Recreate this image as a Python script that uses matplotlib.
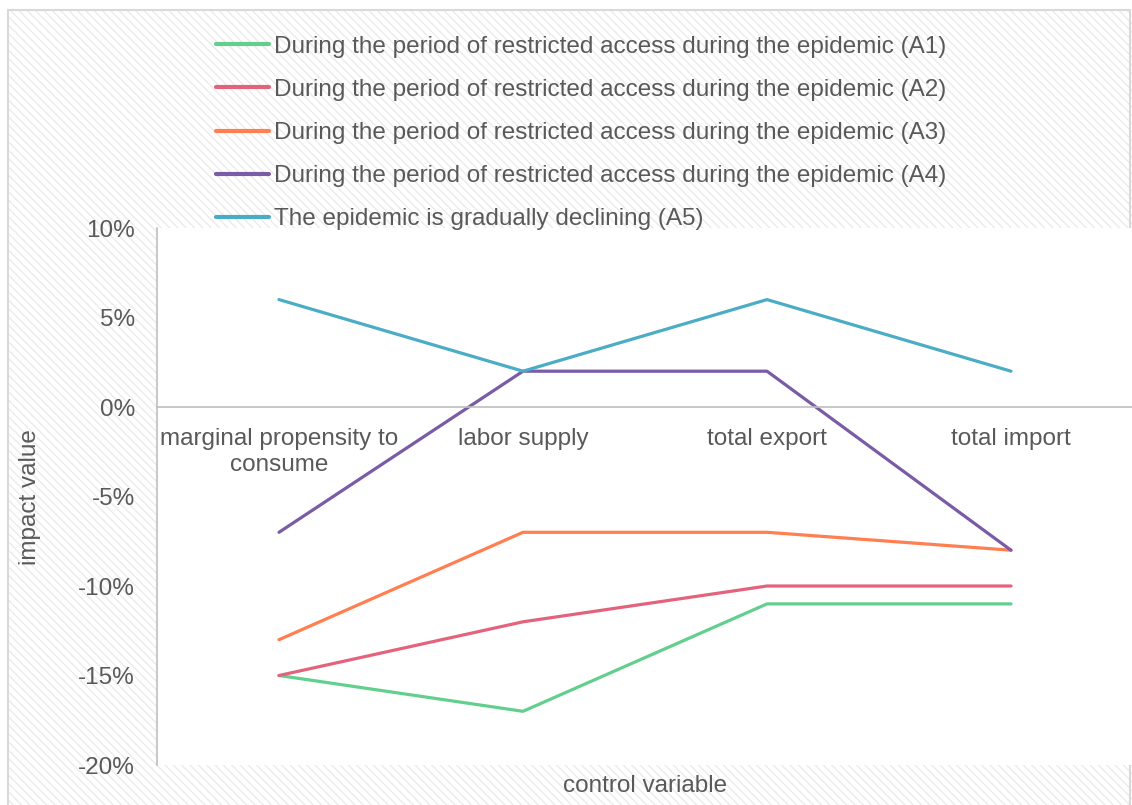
import matplotlib.pyplot as plt
from matplotlib.patches import Rectangle
from matplotlib.ticker import FuncFormatter

plt.rcParams['font.family'] = ['Liberation Sans', 'DejaVu Sans']
plt.rcParams['hatch.linewidth'] = 1.0

# dane
categories = ['marginal propensity to\nconsume', 'labor supply', 'total export', 'total import']
series_names = [
    'During the period of restricted access during the epidemic (A1)',
    'During the period of restricted access during the epidemic (A2)',
    'During the period of restricted access during the epidemic (A3)',
    'During the period of restricted access during the epidemic (A4)',
    'The epidemic is gradually declining (A5)',
]
a1 = [-15, -17, -11, -11]
a2 = [-15, -12, -10, -10]
a3 = [-13, -7, -7, -8]
a4 = [-7, 2, 2, -8]
a5 = [6, 2, 6, 2]
colors = ['#62CF8E', '#E4637C', '#FF7F50', '#7A5BA5', '#4BACC6']

FS = 17.5
W, H = 1132, 805
fig = plt.figure(figsize=(W / 100, H / 100), dpi=100)

# tło w ukośne paski + ramka
bg = Rectangle((8 / W, 0), 1 - 8 / W, 1 - 10 / H, transform=fig.transFigure,
               facecolor='white', edgecolor='#EBEBEB', hatch='\\\\\\\\',
               linewidth=0, zorder=-2)
fig.patches.append(bg)
border = Rectangle((8 / W, -0.01), 1 - 10 / W, 1 - 10 / H + 0.01, transform=fig.transFigure,
                   facecolor='none', edgecolor='#D9D9D9', linewidth=1.5, zorder=-1)
fig.patches.append(border)

ax = fig.add_axes([157 / W, 40 / H, 976 / W, 537 / H])
ax.set_facecolor('white')

x = list(range(len(categories)))
for vals, name, c in zip([a1, a2, a3, a4, a5], series_names, colors):
    ax.plot(x, vals, color=c, linewidth=2.3, label=name, solid_capstyle='round')

ax.set_xlim(-0.5, 3.5)
ax.set_ylim(-20, 10)
ax.set_yticks(range(-20, 11, 5))
ax.yaxis.set_major_formatter(FuncFormatter(lambda v, p: f'{int(v)}%'))

for s in ['top', 'right']:
    ax.spines[s].set_visible(False)
ax.spines['left'].set_color('#BFBFBF')
ax.spines['left'].set_linewidth(1.2)
ax.spines['bottom'].set_position(('data', 0))
ax.spines['bottom'].set_color('#BFBFBF')
ax.spines['bottom'].set_linewidth(1.2)

ax.set_xticks(x)
ax.set_xticklabels(categories)
ax.tick_params(axis='x', length=0, pad=15, labelsize=FS, labelcolor='#595959')
ax.tick_params(axis='y', length=0, pad=16, labelsize=FS, labelcolor='#595959')
for lbl in ax.get_xticklabels():
    lbl.set_linespacing(1.25)

fig.text(30 / W, 1 - 497 / H, 'impact value', rotation=90, ha='center', va='center',
         fontsize=FS, color='#595959')
fig.text(645 / W, 1 - 786 / H, 'control variable', ha='center', va='center',
         fontsize=FS, color='#595959')

leg = fig.legend(loc='upper left', bbox_to_anchor=(206 / W, 1 - 26 / H), frameon=False,
                 fontsize=FS, handlelength=2.2, handletextpad=0.2, labelspacing=0.87,
                 borderaxespad=0)
for t in leg.get_texts():
    t.set_color('#595959')
for h in leg.get_lines():
    h.set_linewidth(3)

fig.savefig('out.png', dpi=100)
